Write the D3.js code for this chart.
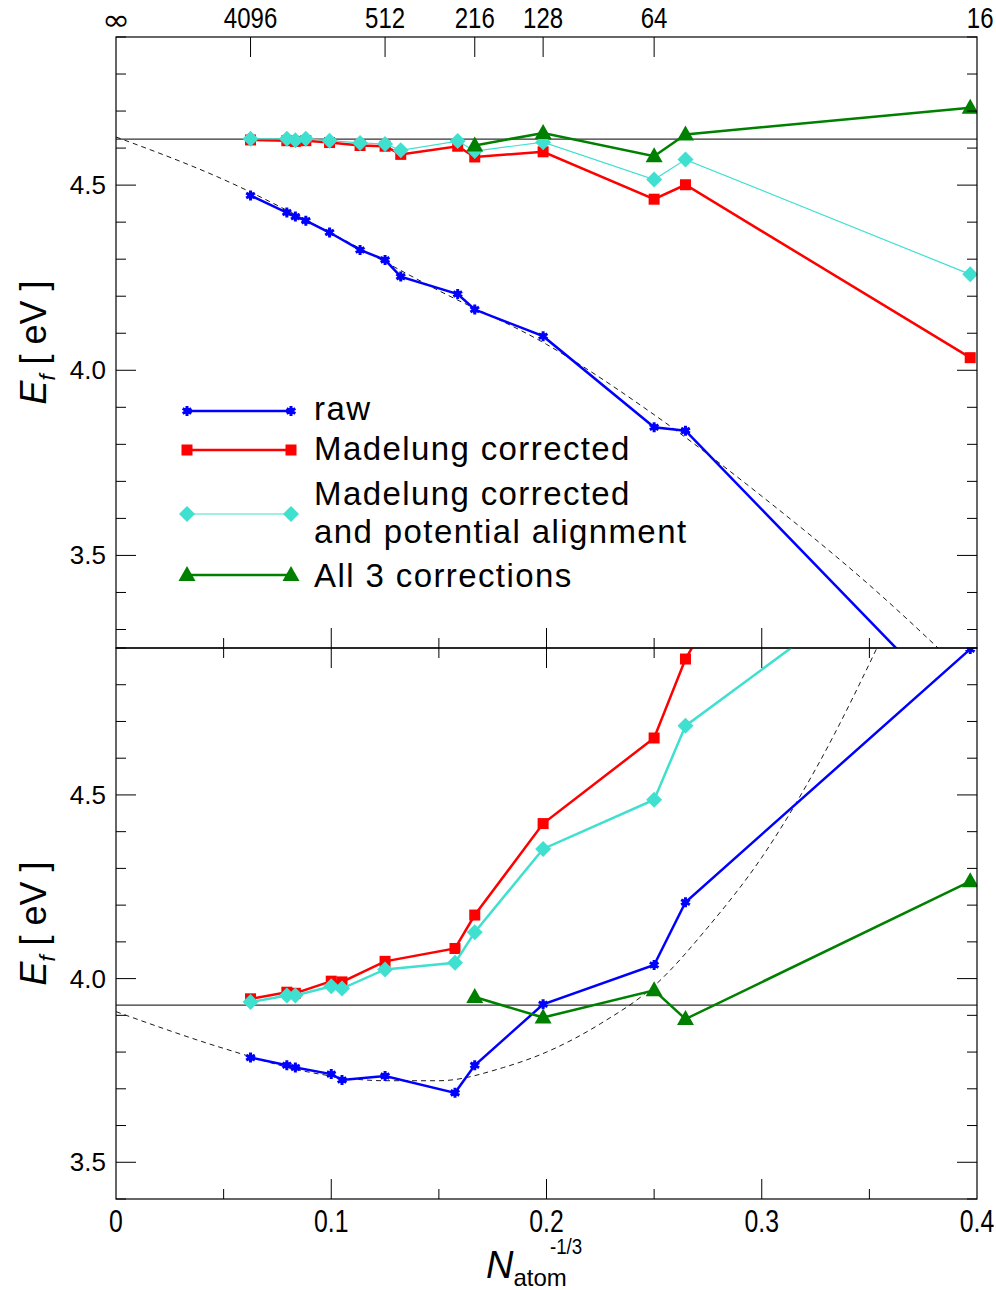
<!DOCTYPE html>
<html>
<head>
<meta charset="utf-8">
<script src="https://d3js.org/d3.v7.min.js"></script>
<style>
  body { margin: 0; background: #fff; }
  svg { display: block; }
  text { font-family: "Liberation Sans", Arial, sans-serif; fill: #000; }
</style>
</head>
<body>
<svg></svg>
<script>
// supercell sizes (atoms) -> x = N^-1/3
const nTop = [4096, 2000, 1728, 1458, 1024, 686, 512, 432, 250, 216, 128, 64, 54, 16];
const rawTop = [4.472, 4.426, 4.415, 4.404, 4.372, 4.325, 4.298, 4.253, 4.206, 4.164, 4.092, 3.846, 3.837, 3.043];
const madTop = [4.622, 4.620, 4.618, 4.620, 4.615, 4.607, 4.605, 4.583, 4.605, 4.576, 4.590, 4.462, 4.501, 4.034];
const alignTop = [4.625, 4.625, 4.621, 4.625, 4.620, 4.614, 4.611, 4.594, 4.619, 4.592, 4.616, 4.515, 4.569, 4.259];
const nAll = [216, 128, 64, 54, 16];
const allTop = [4.607, 4.641, 4.578, 4.637, 4.709];
const refTop = 4.624;
const fitXTop = [0, 0.05, 0.1, 0.15, 0.2, 0.25, 0.3, 0.35, 0.4];
const fitTop = [4.63, 4.515, 4.37, 4.215, 4.07, 3.88, 3.66, 3.42, 3.15];

const nBot = [4096, 2000, 1728, 1000, 864, 512, 256, 216, 128, 64, 54, 16];
const rawBot = [3.785, 3.764, 3.758, 3.740, 3.724, 3.735, 3.689, 3.764, 3.930, 4.037, 4.208, 4.897];
const madBot = [3.945, 3.963, 3.960, 3.993, 3.991, 4.047, 4.082, 4.173, 4.422, 4.655, 4.870, 6.2];
const alignBot = [3.936, 3.954, 3.954, 3.979, 3.973, 4.025, 4.043, 4.126, 4.353, 4.487, 4.688, 5.26];
const allBot = [3.950, 3.894, 3.968, 3.890, 4.265];
const refBot = 3.928;
const fitXBot = [0, 0.05, 0.09, 0.125, 0.15, 0.18, 0.2, 0.225, 0.25, 0.275, 0.3, 0.325, 0.36];
const fitBot = [3.91, 3.81, 3.745, 3.722, 3.722, 3.758, 3.80, 3.877, 3.98, 4.14, 4.33, 4.57, 4.98];

const topTickN = [Infinity, 4096, 512, 216, 128, 64, 16];
const topTickLabels = ["\u221e", "4096", "512", "216", "128", "64", "16"];
const xTicks = [0, 0.1, 0.2, 0.3, 0.4];
const yTicks = [3.5, 4.0, 4.5];
const legendLabels = [["raw"], ["Madelung corrected"], ["Madelung corrected", "and potential alignment"], ["All 3 corrections"]];

const width = 996, height = 1290;
const left = 116, right = 977;
const topY = 37, midY = 648, botY = 1199;

const svg = d3.select('svg').attr('width', width).attr('height', height);

const x = d3.scaleLinear().domain([0, 0.4]).range([left, right]);
const yTop = d3.scaleLinear().domain([3.25, 4.9]).range([midY, topY]);
const yBot = d3.scaleLinear().domain([3.4, 4.9]).range([botY, midY]);
const xOf = n => n === Infinity ? 0 : Math.pow(n, -1 / 3);

const styles = {
  raw: { color: '#0000ff', width: 2.5, marker: 'star' },
  mad: { color: '#ff0000', width: 2.5, marker: 'square' },
  align: { color: '#40e0d0', width: 2.5, marker: 'diamond' },
  all: { color: '#008000', width: 2.5, marker: 'triangle' }
};

function drawMarker(g, kind, color, cx, cy) {
  if (kind === 'star') {
    g.append('path')
      .attr('transform', `translate(${cx},${cy})`)
      .attr('d', d3.symbol(d3.symbolAsterisk, 70)())
      .attr('stroke', color).attr('stroke-width', 3).attr('fill', 'none');
    g.append('circle').attr('cx', cx).attr('cy', cy).attr('r', 3.2).attr('fill', color);
  } else if (kind === 'square') {
    g.append('rect').attr('x', cx - 5.5).attr('y', cy - 5.5).attr('width', 11).attr('height', 11).attr('fill', color);
  } else if (kind === 'diamond') {
    g.append('path').attr('d', `M${cx},${cy - 8}L${cx + 8},${cy}L${cx},${cy + 8}L${cx - 8},${cy}Z`).attr('fill', color);
  } else {
    g.append('path').attr('d', `M${cx},${cy - 9}L${cx + 8.5},${cy + 6}L${cx - 8.5},${cy + 6}Z`).attr('fill', color);
  }
}

function drawSeries(g, y, ns, vals, st, lw) {
  const pts = ns.map((n, i) => [x(xOf(n)), y(vals[i])]);
  g.append('path')
    .attr('d', d3.line()(pts))
    .attr('fill', 'none')
    .attr('stroke', st.color)
    .attr('stroke-width', lw || st.width);
  pts.forEach(p => drawMarker(g, st.marker, st.color, p[0], p[1]));
}

// condensed label, squeezed horizontally
function narrowText(px, py, str, size) {
  svg.append('text')
    .attr('transform', `translate(${px},${py}) scale(0.8,1)`)
    .attr('text-anchor', 'middle')
    .style('font-size', size + 'px')
    .text(str);
}

function drawPanel(id, y, y0, y1, data) {
  svg.append('clipPath').attr('id', id)
    .append('rect').attr('x', left).attr('y', y1).attr('width', right - left).attr('height', y0 - y1);
  const g = svg.append('g').attr('clip-path', `url(#${id})`);

  // reference line
  g.append('line')
    .attr('x1', left).attr('x2', right)
    .attr('y1', y(data.ref)).attr('y2', y(data.ref))
    .attr('stroke', '#333').attr('stroke-width', 1.2);

  // dashed fit
  g.append('path')
    .attr('d', d3.line().curve(d3.curveMonotoneX)
      .x((d, i) => x(data.fitX[i])).y(d => y(d))(data.fit))
    .attr('fill', 'none').attr('stroke', '#000')
    .attr('stroke-width', 0.9).attr('stroke-dasharray', '5,4');

  drawSeries(g, y, data.n, data.raw, styles.raw);
  drawSeries(g, y, data.n, data.mad, styles.mad);
  drawSeries(g, y, data.n, data.align, styles.align, data.alignWidth);
  drawSeries(g, y, nAll, data.all, styles.all);

  // frame
  svg.append('rect').attr('x', left).attr('y', y1).attr('width', right - left).attr('height', y0 - y1)
    .attr('fill', 'none').attr('stroke', '#000').attr('stroke-width', 1.2);

  // y ticks left and right
  const [d0, d1] = y.domain();
  const minor = d3.range(Math.ceil(d0 * 10), Math.floor(d1 * 10) + 1).map(v => v / 10);
  minor.forEach(v => {
    const major = Math.abs(v * 2 - Math.round(v * 2)) < 1e-6;
    const len = major ? 20 : 10;
    svg.append('line').attr('x1', left).attr('x2', left + len).attr('y1', y(v)).attr('y2', y(v)).attr('stroke', '#000');
    svg.append('line').attr('x1', right).attr('x2', right - len).attr('y1', y(v)).attr('y2', y(v)).attr('stroke', '#000');
  });
  yTicks.filter(v => v >= d0 && v <= d1).forEach(v => {
    svg.append('text').attr('x', 106).attr('y', y(v) + 9)
      .attr('text-anchor', 'end').style('font-size', '26px').text(d3.format('.1f')(v));
  });

  // x ticks on bottom edge (pointing up) and top edge of lower panel
  d3.range(1, 8).map(k => k * 0.05).forEach(v => {
    const major = Math.abs(v * 10 - Math.round(v * 10)) < 1e-6;
    const len = major ? 20 : 10;
    svg.append('line').attr('x1', x(v)).attr('x2', x(v)).attr('y1', y0).attr('y2', y0 - len).attr('stroke', '#000');
    if (id === 'clipBot') {
      svg.append('line').attr('x1', x(v)).attr('x2', x(v)).attr('y1', y1).attr('y2', y1 + len).attr('stroke', '#000');
    }
  });

  // y axis title
  const cy = (y0 + y1) / 2;
  const t = svg.append('text')
    .attr('transform', `translate(46,${cy}) rotate(-90)`)
    .attr('text-anchor', 'middle')
    .style('font-size', '36px');
  t.append('tspan').style('font-style', 'italic').text('E');
  t.append('tspan').style('font-style', 'italic').style('font-size', '22px').attr('dy', 9).text('f');
  t.append('tspan').attr('dy', -9).attr('xml:space', 'preserve').text(' [ eV ]');
}

drawPanel('clipTop', yTop, midY, topY, {
  n: nTop, raw: rawTop, mad: madTop, align: alignTop, all: allTop,
  ref: refTop, fitX: fitXTop, fit: fitTop, alignWidth: 1.2
});
drawPanel('clipBot', yBot, botY, midY, {
  n: nBot, raw: rawBot, mad: madBot, align: alignBot, all: allBot,
  ref: refBot, fitX: fitXBot, fit: fitBot
});

// top axis in atom count
topTickN.forEach((n, i) => {
  const px = x(xOf(n));
  if (i > 0 && i < topTickN.length - 1) {
    svg.append('line').attr('x1', px).attr('x2', px).attr('y1', topY).attr('y2', topY + 20).attr('stroke', '#000');
  }
  if (i === 0) {
    svg.append('text')
      .attr('transform', `translate(${px},30) scale(1.25,1.1)`)
      .attr('text-anchor', 'middle')
      .style('font-family', '"DejaVu Sans", sans-serif')
      .style('font-size', '27px').text(topTickLabels[i]);
  } else {
    narrowText(i === topTickN.length - 1 ? px + 10 : px, 28, topTickLabels[i], 30);
  }
});

// bottom axis labels
xTicks.forEach(v => {
  narrowText(x(v), 1232, v === 0 ? '0' : d3.format('.1f')(v), 31);
});

// x axis title
const xt = svg.append('text').attr('x', 486).attr('y', 1278).style('font-size', '38px');
xt.append('tspan').style('font-style', 'italic').text('N');
xt.append('tspan').style('font-size', '24px').attr('dy', 8).text('atom');
svg.append('text').attr('transform', 'translate(550,1254) scale(0.85,1)').style('font-size', '22px').text('-1/3');

// legend
const legendKeys = ['raw', 'mad', 'align', 'all'];
const legendY = [411, 450, 514, 575];
const legendText = [[420], [460], [505, 543], [587]];
legendKeys.forEach((k, i) => {
  const st = styles[k];
  const g = svg.append('g');
  g.append('line').attr('x1', 187).attr('x2', 291).attr('y1', legendY[i]).attr('y2', legendY[i])
    .attr('stroke', st.color).attr('stroke-width', k === 'align' ? 1.2 : 2.5);
  drawMarker(g, st.marker, st.color, 187, legendY[i]);
  drawMarker(g, st.marker, st.color, 291, legendY[i]);
  legendLabels[i].forEach((line, j) => {
    svg.append('text').attr('x', 314).attr('y', legendText[i][j])
      .style('font-size', '33px').style('letter-spacing', '1.4px').text(line);
  });
});
</script>
</body>
</html>
